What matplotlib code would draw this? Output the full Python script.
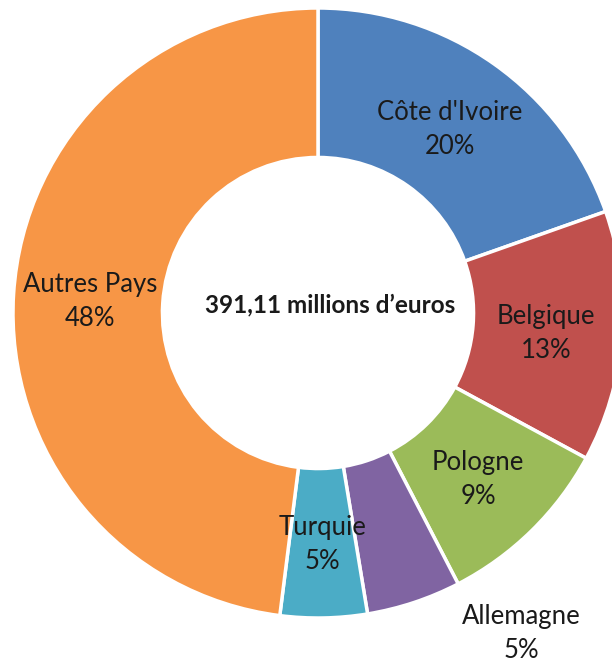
import numpy as np
from matplotlib import pyplot as plt

pays = ["Côte d'Ivoire", "Belgique", "Pologne", "Allemagne", "Turquie", "Autres Pays"]
parts = [19.6, 13.3, 9.5, 5.0, 4.6, 48.0]
etiquettes = ["20%", "13%", "9%", "5%", "5%", "48%"]
couleurs = ["#4F81BD", "#C0504D", "#9BBB59", "#8064A2", "#4BACC6", "#F79646"]
total = "391,11 millions d\u2019euros"

plt.rcParams['font.family'] = ['Lato', 'DejaVu Sans']

fig = plt.figure(figsize=(6.12, 6.66), dpi=100)
ax = fig.add_axes([0, 0, 1, 1])
ax.set_aspect('equal')

# anneau : rayon 1 = 305 px, centre a (318, 313) px depuis le haut
wedges, _ = ax.pie(parts, colors=couleurs, startangle=90, counterclock=False,
                   radius=1, wedgeprops=dict(width=0.49, edgecolor='white', linewidth=2.5))

ax.set_xlim(-318/305, (612-318)/305)
ax.set_ylim(-353/305, 313/305)
ax.axis('off')

for w, nom, pct in zip(wedges, pays, etiquettes):
    ang = np.deg2rad((w.theta1 + w.theta2)/2)
    r = 0.75
    if nom == "Allemagne":
        ang = np.deg2rad(-57.3)
        r = 1.235
    ax.text(r*np.cos(ang), r*np.sin(ang) - 0.01, nom + "\n" + pct, ha='center', va='center',
            fontsize=18.5, linespacing=1.45, color='#1a1a1a')

ax.text(0.04, 0.025, total, ha='center', va='center', fontsize=17.5, fontweight='bold', color='#1a1a1a')

plt.savefig("out.png", dpi=100)
